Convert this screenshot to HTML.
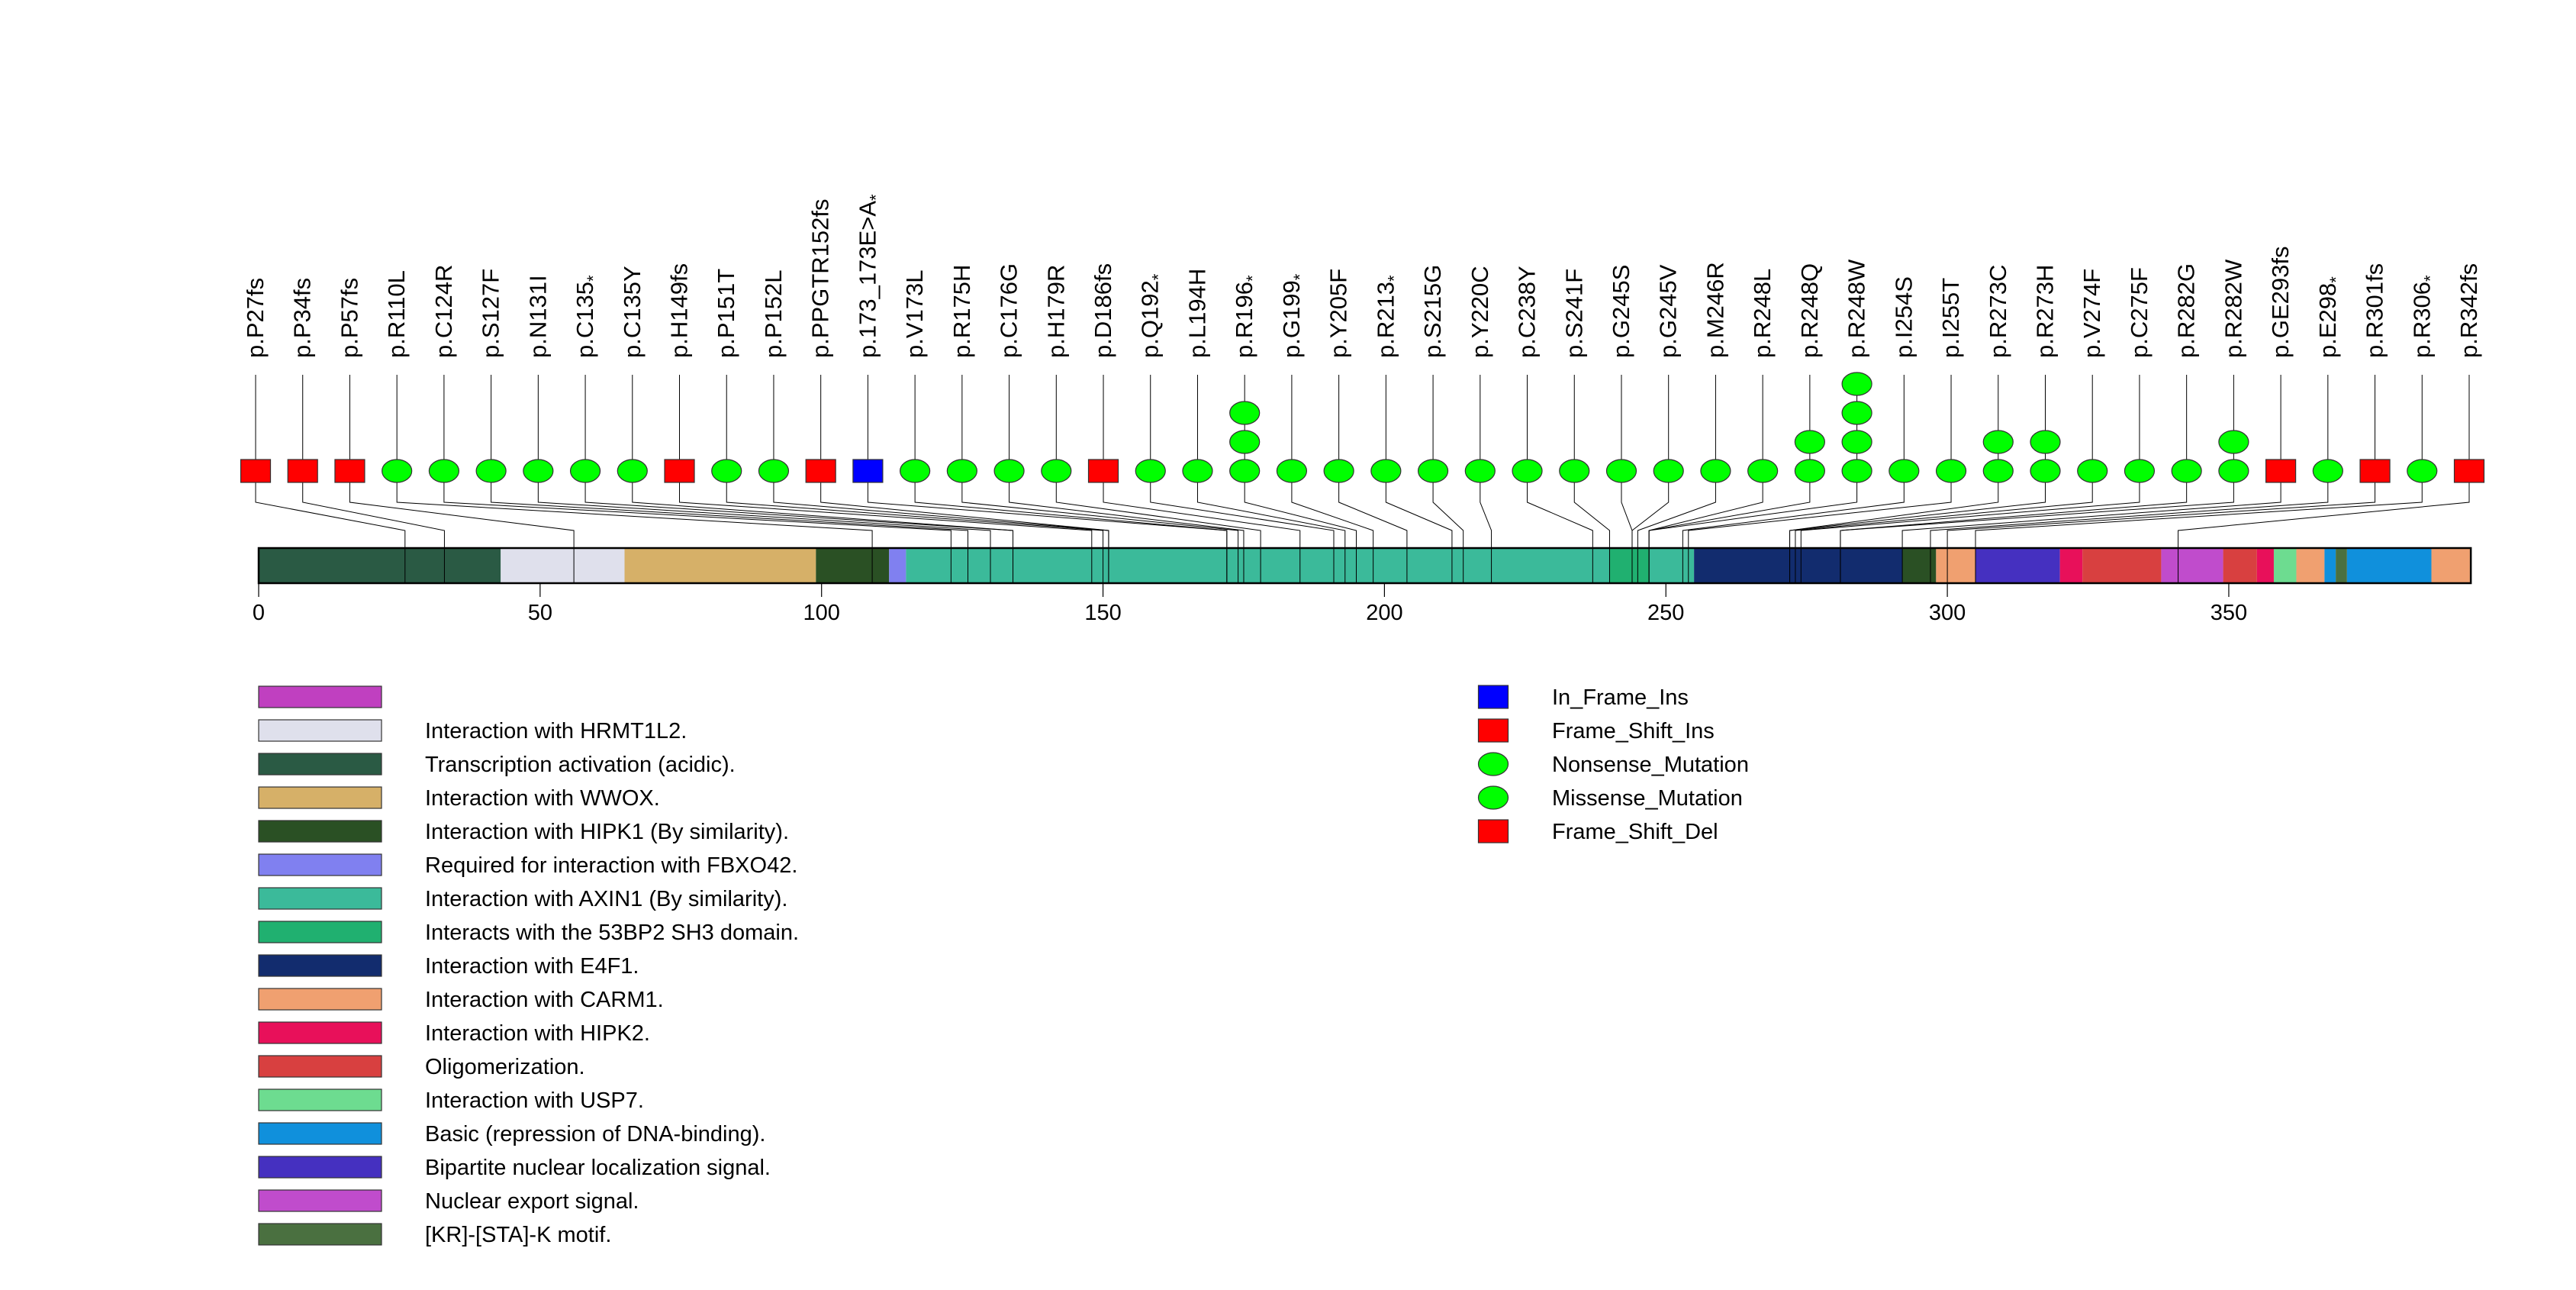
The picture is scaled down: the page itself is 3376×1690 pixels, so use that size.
<!DOCTYPE html>
<html><head><meta charset="utf-8"><style>
html,body{margin:0;padding:0;background:#fff;}
svg{display:block;font-family:"Liberation Sans",sans-serif;}
</style></head><body>
<svg id="chart" width="3376" height="1690" viewBox="0 0 3376 1690" xmlns="http://www.w3.org/2000/svg"><g id="root" transform="translate(0,8)"></g></svg>
<script>
const labels=["p.P27fs","p.P34fs","p.P57fs","p.R110L","p.C124R","p.S127F","p.N131I","p.C135*","p.C135Y","p.H149fs","p.P151T","p.P152L","p.PPGTR152fs","p.173_173E>A*","p.V173L","p.R175H","p.C176G","p.H179R","p.D186fs","p.Q192*","p.L194H","p.R196*","p.G199*","p.Y205F","p.R213*","p.S215G","p.Y220C","p.C238Y","p.S241F","p.G245S","p.G245V","p.M246R","p.R248L","p.R248Q","p.R248W","p.I254S","p.I255T","p.R273C","p.R273H","p.V274F","p.C275F","p.R282G","p.R282W","p.GE293fs","p.E298*","p.R301fs","p.R306*","p.R342fs"];
const positions=[26,33,56,109,123,126,130,134,134,148,150,151,151,172,172,174,175,178,185,191,193,195,198,204,212,214,219,237,240,244,244,245,247,247,247,253,254,272,272,273,274,281,281,292,297,300,305,341];
const counts=[1,1,1,1,1,1,1,1,1,1,1,1,1,1,1,1,1,1,1,1,1,3,1,1,1,1,1,1,1,1,1,1,1,2,4,1,1,2,2,1,1,1,2,1,1,1,1,1];
const types=["fs","fs","fs","m","m","m","m","m","m","fs","m","m","fs","ins","m","m","m","m","fs","m","m","m","m","m","m","m","m","m","m","m","m","m","m","m","m","m","m","m","m","m","m","m","m","fs","m","fs","m","fs"];
const domStart=[0,43,65,99,112,115,240,247,255,292,298,305,320,324,338,349,355,358,362,367,369,371,386];
const domEnd=[43,65,99,112,115,240,247,255,292,298,305,320,324,338,349,355,358,362,367,369,371,386,393];
const domColor=["#2a5a44","#dfe0ec","#d6b068","#2a5024","#8080f0","#3bba9a","#20b070","#3bba9a","#122c6e","#2a5024","#f0a070","#4530c0","#e8105a","#d84040","#c04ccc","#d84040","#e8105a","#6ddc90","#f0a070","#1090dc","#4a7040","#1090dc","#f0a070"];
const ticks=[0,50,100,150,200,250,300,350];
const legendText=["","Interaction with HRMT1L2.","Transcription activation (acidic).","Interaction with WWOX.","Interaction with HIPK1 (By similarity).","Required for interaction with FBXO42.","Interaction with AXIN1 (By similarity).","Interacts with the 53BP2 SH3 domain.","Interaction with E4F1.","Interaction with CARM1.","Interaction with HIPK2.","Oligomerization.","Interaction with USP7.","Basic (repression of DNA-binding).","Bipartite nuclear localization signal.","Nuclear export signal.","[KR]-[STA]-K motif."];
const legendColor=["#c040c0","#dfe0ec","#2a5a44","#d6b068","#2a5024","#8080f0","#3bba9a","#20b070","#122c6e","#f0a070","#e8105a","#d84040","#6ddc90","#1090dc","#4530c0","#c04ccc","#4a7040"];
const mutLegend=["In_Frame_Ins","Frame_Shift_Ins","Nonsense_Mutation","Missense_Mutation","Frame_Shift_Del"];
const mutLegendType=["ins","fs","m","m","fs"];

const NS="http://www.w3.org/2000/svg";
const svg=document.getElementById('root');
const X0=339,XS=7.377;
function xa(a){return X0+a*XS;}
const colX0=335,colStep=(3236-335)/47;
function xc(i){return colX0+i*colStep;}
const BAR_T=710,BAR_B=756,ROW1=609,ROWSTEP=38;
function yRow(k){return ROW1-k*ROWSTEP;}
function mk(tag,attrs,parent){const e=document.createElementNS(NS,tag);for(const k in attrs)e.setAttribute(k,attrs[k]);(parent||svg).appendChild(e);return e;}
function marker(type,cx,cy,parent){
  if(type==="m") return mk('ellipse',{cx:cx,cy:cy,rx:19.5,ry:15,fill:"#00ff00",stroke:"#333","stroke-width":1.2},parent);
  return mk('rect',{x:cx-19.5,y:cy-15,width:39,height:30,fill:type==="ins"?"#0000ff":"#ff0000",stroke:"#333","stroke-width":1.2},parent);
}
const gDom=mk('g',{});


for(let i=0;i<domStart.length;i++){
  const r=mk('rect',{x:xa(domStart[i]),y:BAR_T,width:xa(domEnd[i])-xa(domStart[i]),height:BAR_B-BAR_T,fill:domColor[i]},gDom);
  
  
}
mk('rect',{x:xa(0),y:BAR_T,width:xa(393)-xa(0),height:BAR_B-BAR_T,fill:"none",stroke:"#000","stroke-width":2.5},gDom);
const gAx=mk('g',{});


ticks.forEach(t=>{
  mk('line',{x1:xa(t),x2:xa(t),y1:BAR_B,y2:774,stroke:"#000","stroke-width":1.2},gAx);
  const tx=mk('text',{x:xa(t),y:804,"text-anchor":"middle","font-size":29},gAx);
  tx.textContent=t;
  
  
});
for(let i=0;i<labels.length;i++){
  const g=mk('g',{});
  
  
  const cx=xc(i),px=xa(positions[i]);
  mk('polyline',{points:`${cx},483 ${cx},650 ${px},687 ${px},${BAR_B}`,fill:"none",stroke:"#000","stroke-width":1},g);
  for(let k=0;k<counts[i];k++) marker(types[i],cx,yRow(k),g);
  const t=mk('text',{transform:`translate(${cx+10},461) rotate(-90)`,"font-size":31},g);
  let s=labels[i];
  if(s.endsWith("*")){t.textContent=s.slice(0,-1);const sp=mk('tspan',{"font-size":22,dy:8},t);sp.textContent="*";}
  else t.textContent=s;
  
  
}
const gL=mk('g',{});


for(let i=0;i<legendText.length;i++){
  const y=905+i*44;
  const r=mk('rect',{x:339,y:y-14,width:161,height:28,fill:legendColor[i],stroke:"#333","stroke-width":1.2},gL);
  
  
  if(legendText[i]){const t=mk('text',{x:557,y:y+10,"font-size":29},gL);t.textContent=legendText[i];
  
  }
}
const gM=mk('g',{});


for(let i=0;i<mutLegend.length;i++){
  const y=905+i*44;
  marker(mutLegendType[i],1957,y,gM);
  const t=mk('text',{x:2034,y:y+10,"font-size":29},gM);t.textContent=mutLegend[i];
  
  
}
</script>
</body></html>
